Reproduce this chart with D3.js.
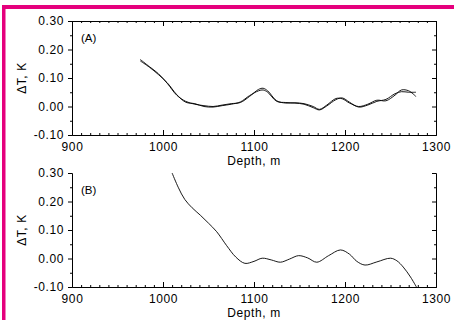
<!DOCTYPE html>
<html>
<head>
<meta charset="utf-8">
<script src="https://cdn.jsdelivr.net/npm/d3@7"></script>
<style>
  body { margin: 0; background: #fff; }
  text { font-family: "Liberation Sans", Arial, sans-serif; fill: #000; }
</style>
</head>
<body>
<div id="visualization-container"></div>
<script>
// Panel A: two nearly identical profiles (depth in m, dT in K)
const depthA = [975, 985, 995, 1005, 1015, 1025, 1035, 1045, 1055, 1065, 1075, 1085, 1095, 1105, 1110, 1115,
  1125, 1135, 1145, 1155, 1165, 1172, 1180, 1190, 1197, 1205, 1215, 1225, 1235, 1245, 1255, 1262, 1270, 1278];
const seriesA1 = [0.165, 0.140, 0.115, 0.080, 0.040, 0.018, 0.008, 0.003, 0.000, 0.005, 0.010, 0.014, 0.035, 0.060, 0.064, 0.055,
  0.020, 0.012, 0.013, 0.010, 0.000, -0.010, 0.005, 0.028, 0.027, 0.012, 0.000, 0.008, 0.022, 0.020, 0.040, 0.058, 0.055, 0.035];
const seriesA2 = [0.160, 0.138, 0.112, 0.082, 0.042, 0.015, 0.010, 0.000, -0.002, 0.003, 0.008, 0.016, 0.038, 0.055, 0.058, 0.050,
  0.018, 0.014, 0.012, 0.008, -0.004, -0.012, 0.002, 0.024, 0.030, 0.015, -0.002, 0.005, 0.018, 0.025, 0.045, 0.052, 0.050, 0.050];

// Panel B: single profile
const depthB = [1010, 1017, 1024, 1032, 1041, 1050, 1059, 1070, 1080, 1090, 1100, 1109, 1119, 1129, 1139, 1149,
  1159, 1169, 1182, 1195, 1205, 1213, 1222, 1235, 1250, 1257, 1264, 1272, 1278.5];
const seriesB = [0.300, 0.248, 0.207, 0.178, 0.152, 0.124, 0.094, 0.045, 0.005, -0.017, -0.010, 0.001, -0.005, -0.013, -0.002, 0.010,
  0.002, -0.013, 0.010, 0.030, 0.015, -0.010, -0.023, -0.012, 0.001, -0.008, -0.030, -0.065, -0.100];

// Tick values
const xTicks = [900, 1000, 1100, 1200, 1300];
const xMinor = d3.range(900, 1301, 10);
const yTicks = [-0.1, 0, 0.1, 0.2, 0.3];
const yMinor = [-0.05, 0.05, 0.15, 0.25];

const W = 454, H = 320;
const margin = { left: 72, right: 18 },
    width = W - margin.left - margin.right;
const panelH = 114;

let svg = d3.select("#visualization-container").append("svg")
    .attr("width", W)
    .attr("height", H);

// Pink frame (top and left only)
svg.append("rect").attr("x", 2).attr("y", 5).attr("width", W - 2).attr("height", 4).attr("fill", "#e5007d");
svg.append("rect").attr("x", 2).attr("y", 5).attr("width", 3.5).attr("height", H - 5).attr("fill", "#e5007d");

const xScale = d3.scaleLinear().domain([900, 1300]).range([0, width]);
const yScale = d3.scaleLinear().domain([-0.1, 0.3]).range([panelH, 0]);

const line = d3.line()
    .x(d => xScale(d[0]))
    .y(d => yScale(d[1]))
    .curve(d3.curveCatmullRom);

function styleAxis(g) {
    g.selectAll("path, line").attr("stroke", "#000").attr("stroke-width", 1);
    g.selectAll("text").attr("font-size", 12).attr("letter-spacing", "0.6px").attr("fill", "#000");
}

function drawPanel(top, label, lines, topAxis) {
    let g = svg.append("g").attr("transform", `translate(${margin.left},${top})`);

    // bottom axis, ticks pointing inward
    g.append("g")
        .attr("transform", `translate(0,${panelH})`)
        .call(d3.axisBottom(xScale).tickValues(xMinor).tickSize(-2).tickSizeOuter(0).tickFormat(""))
        .call(styleAxis);
    g.append("g")
        .attr("transform", `translate(0,${panelH})`)
        .call(d3.axisBottom(xScale).tickValues(xTicks).tickSize(-5).tickSizeOuter(0).tickPadding(7)
            .tickFormat(d3.format("d")))
        .call(styleAxis);

    if (topAxis) {
        g.append("g")
            .call(d3.axisTop(xScale).tickValues(xMinor).tickSize(-2).tickSizeOuter(0).tickFormat(""))
            .call(styleAxis);
        g.append("g")
            .call(d3.axisTop(xScale).tickValues(xTicks).tickSize(-5).tickSizeOuter(0).tickFormat(""))
            .call(styleAxis);
    }

    // left axis
    g.append("g")
        .call(d3.axisLeft(yScale).tickValues(yMinor).tickSize(2).tickSizeOuter(0).tickFormat(""))
        .call(styleAxis);
    g.append("g")
        .call(d3.axisLeft(yScale).tickValues(yTicks).tickSize(4).tickSizeOuter(0).tickPadding(4)
            .tickFormat(d => d.toFixed(2)))
        .call(styleAxis);

    // right axis, ticks inward
    g.append("g")
        .attr("transform", `translate(${width},0)`)
        .call(d3.axisRight(yScale).tickValues(yMinor).tickSize(-2).tickSizeOuter(0).tickFormat(""))
        .call(styleAxis);
    g.append("g")
        .attr("transform", `translate(${width},0)`)
        .call(d3.axisRight(yScale).tickValues(yTicks).tickSize(-4).tickSizeOuter(0).tickFormat(""))
        .call(styleAxis);

    // curves
    lines.forEach(pts => {
        g.append("path")
            .datum(pts)
            .attr("fill", "none")
            .attr("stroke", "#000")
            .attr("stroke-width", 0.9)
            .attr("d", line);
    });

    // panel label
    g.append("text")
        .attr("x", 9)
        .attr("y", 21)
        .attr("font-size", 11.5)
        .text(label);

    // axis titles
    g.append("text")
        .attr("x", width / 2)
        .attr("y", panelH + 30)
        .attr("text-anchor", "middle")
        .attr("font-size", 12)
        .attr("letter-spacing", "0.6px")
        .text("Depth, m");

    g.append("text")
        .attr("transform", `translate(-46,${panelH / 2}) rotate(-90)`)
        .attr("text-anchor", "middle")
        .attr("font-size", 12)
        .attr("letter-spacing", "0.6px")
        .text("\u0394T, K");
}

drawPanel(21, "(A)", [d3.zip(depthA, seriesA1), d3.zip(depthA, seriesA2)], true);
drawPanel(173, "(B)", [d3.zip(depthB, seriesB)], false);
</script>
</body>
</html>
